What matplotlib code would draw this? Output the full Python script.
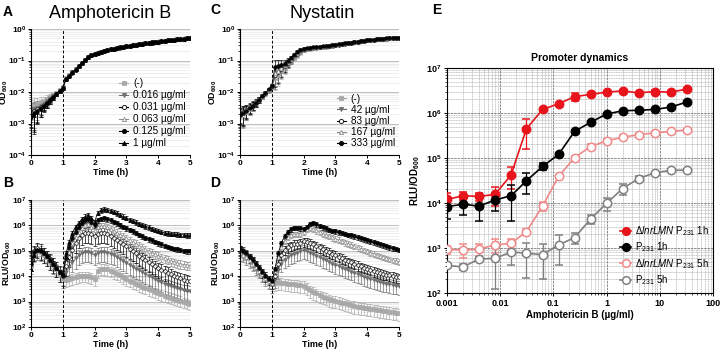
import numpy as np
import matplotlib
matplotlib.use("Agg")
import matplotlib.pyplot as plt
from matplotlib import ticker
from matplotlib.lines import Line2D

plt.rcParams['font.family'] = ['Liberation Sans', 'DejaVu Sans']
plt.rcParams['mathtext.fontset'] = 'custom'
plt.rcParams['mathtext.rm'] = 'Liberation Sans'
plt.rcParams['mathtext.it'] = 'Liberation Sans:italic'
plt.rcParams['mathtext.bf'] = 'Liberation Sans:bold'

# ----------------------------
# Time course data (log10 values, every 0.1 h from 0 to 5 h)
# ----------------------------
times = [round(0.1 * i, 1) for i in range(51)]

amb_labels = ['(-)', '0.016 µg/ml', '0.031 µg/ml', '0.063 µg/ml', '0.125 µg/ml', '1 µg/ml']
nys_labels = ['(-)', '42 µg/ml', '83 µg/ml', '167 µg/ml', '333 µg/ml']

od_amb_neg = [-2.45, -2.42, -2.38, -2.33, -2.28, -2.22, -2.16, -2.10, -2.03, -1.95,
              -1.86, -1.57, -1.47, -1.37, -1.28, -1.18, -1.08, -0.99, -0.90, -0.83,
              -0.78, -0.75, -0.72, -0.69, -0.67, -0.64, -0.62, -0.60, -0.58, -0.57,
              -0.55, -0.53, -0.52, -0.50, -0.49, -0.47, -0.45, -0.44, -0.43, -0.41,
              -0.40, -0.39, -0.37, -0.36, -0.35, -0.34, -0.33, -0.32, -0.31, -0.30,
              -0.29]
od_amb_016 = [-2.55, -2.55, -2.50, -2.44, -2.37, -2.30, -2.22, -2.13, -2.05, -1.96,
              -1.85, -1.58, -1.48, -1.38, -1.28, -1.18, -1.08, -0.98, -0.89, -0.83,
              -0.78, -0.75, -0.72, -0.69, -0.66, -0.64, -0.62, -0.60, -0.58, -0.57,
              -0.55, -0.53, -0.52, -0.50, -0.48, -0.47, -0.45, -0.44, -0.42, -0.41,
              -0.40, -0.38, -0.37, -0.36, -0.35, -0.34, -0.33, -0.32, -0.31, -0.30,
              -0.29]
od_amb_031 = [-2.62, -2.60, -2.55, -2.47, -2.40, -2.31, -2.23, -2.15, -2.06, -1.96,
              -1.86, -1.59, -1.48, -1.38, -1.29, -1.19, -1.09, -0.99, -0.89, -0.83,
              -0.79, -0.75, -0.72, -0.70, -0.67, -0.64, -0.62, -0.60, -0.59, -0.57,
              -0.55, -0.54, -0.52, -0.50, -0.48, -0.47, -0.46, -0.44, -0.42, -0.41,
              -0.40, -0.38, -0.37, -0.36, -0.35, -0.34, -0.33, -0.32, -0.31, -0.30,
              -0.29]
od_amb_063 = [-2.70, -2.65, -2.58, -2.50, -2.42, -2.33, -2.24, -2.15, -2.06, -1.96,
              -1.85, -1.58, -1.47, -1.37, -1.28, -1.17, -1.08, -0.98, -0.89, -0.82,
              -0.78, -0.74, -0.72, -0.69, -0.66, -0.64, -0.61, -0.60, -0.58, -0.56,
              -0.55, -0.53, -0.51, -0.50, -0.48, -0.46, -0.45, -0.43, -0.42, -0.41,
              -0.39, -0.38, -0.37, -0.35, -0.34, -0.33, -0.32, -0.31, -0.30, -0.29,
              -0.28]
od_amb_125 = [-2.75, -2.68, -2.60, -2.52, -2.43, -2.34, -2.25, -2.16, -2.07, -1.97,
              -1.87, -1.58, -1.48, -1.39, -1.29, -1.18, -1.08, -0.98, -0.89, -0.83,
              -0.78, -0.75, -0.72, -0.69, -0.66, -0.64, -0.62, -0.60, -0.58, -0.57,
              -0.55, -0.53, -0.52, -0.50, -0.48, -0.47, -0.45, -0.44, -0.42, -0.41,
              -0.40, -0.38, -0.37, -0.36, -0.35, -0.34, -0.33, -0.32, -0.31, -0.30,
              -0.29]
od_amb_1 = [-2.80, -2.72, -2.62, -2.53, -2.44, -2.35, -2.26, -2.17, -2.07, -1.97,
            -1.87, -1.59, -1.49, -1.38, -1.28, -1.18, -1.09, -0.99, -0.90, -0.83,
            -0.79, -0.75, -0.72, -0.69, -0.67, -0.64, -0.62, -0.60, -0.58, -0.57,
            -0.55, -0.53, -0.52, -0.50, -0.49, -0.47, -0.45, -0.44, -0.43, -0.41,
            -0.40, -0.39, -0.37, -0.36, -0.35, -0.34, -0.33, -0.32, -0.31, -0.30,
            -0.29]

od_nys_neg = [-2.70, -2.66, -2.58, -2.50, -2.42, -2.33, -2.24, -2.14, -2.04, -1.94,
              -1.84, -1.55, -1.45, -1.34, -1.23, -1.12, -1.02, -0.92, -0.82, -0.74,
              -0.68, -0.64, -0.62, -0.60, -0.59, -0.58, -0.57, -0.56, -0.54, -0.53,
              -0.51, -0.49, -0.48, -0.46, -0.45, -0.43, -0.42, -0.40, -0.38, -0.37,
              -0.36, -0.35, -0.34, -0.33, -0.32, -0.32, -0.31, -0.30, -0.30, -0.29,
              -0.29]
od_nys_42 = [-2.75, -2.70, -2.62, -2.53, -2.44, -2.35, -2.25, -2.15, -2.05, -1.95,
             -1.84, -1.50, -1.40, -1.30, -1.20, -1.10, -1.00, -0.90, -0.80, -0.72,
             -0.66, -0.63, -0.61, -0.60, -0.59, -0.58, -0.57, -0.56, -0.54, -0.52,
             -0.51, -0.50, -0.48, -0.47, -0.45, -0.44, -0.42, -0.40, -0.39, -0.37,
             -0.36, -0.35, -0.34, -0.33, -0.33, -0.32, -0.31, -0.30, -0.30, -0.29,
             -0.28]
od_nys_83 = [-2.68, -2.64, -2.57, -2.49, -2.41, -2.32, -2.23, -2.13, -2.03, -1.93,
             -1.82, -1.45, -1.36, -1.27, -1.17, -1.07, -0.97, -0.87, -0.78, -0.70,
             -0.65, -0.62, -0.61, -0.60, -0.58, -0.57, -0.56, -0.55, -0.54, -0.53,
             -0.51, -0.50, -0.48, -0.47, -0.45, -0.44, -0.42, -0.41, -0.39, -0.38,
             -0.36, -0.35, -0.34, -0.33, -0.32, -0.31, -0.31, -0.30, -0.29, -0.29,
             -0.28]
od_nys_167 = [-2.80, -2.73, -2.64, -2.55, -2.45, -2.35, -2.25, -2.15, -2.04, -1.94,
              -1.82, -1.40, -1.32, -1.24, -1.15, -1.05, -0.95, -0.85, -0.76, -0.69,
              -0.64, -0.62, -0.60, -0.59, -0.58, -0.57, -0.56, -0.55, -0.54, -0.53,
              -0.51, -0.49, -0.48, -0.46, -0.45, -0.43, -0.42, -0.40, -0.39, -0.37,
              -0.36, -0.35, -0.34, -0.33, -0.32, -0.31, -0.31, -0.30, -0.29, -0.29,
              -0.28]
od_nys_333 = [-2.72, -2.68, -2.60, -2.52, -2.43, -2.34, -2.24, -2.14, -2.03, -1.92,
              -1.80, -1.20, -1.18, -1.15, -1.10, -1.02, -0.93, -0.83, -0.74, -0.67,
              -0.62, -0.60, -0.59, -0.58, -0.57, -0.56, -0.55, -0.54, -0.53, -0.52,
              -0.51, -0.49, -0.47, -0.46, -0.44, -0.43, -0.41, -0.40, -0.38, -0.37,
              -0.36, -0.35, -0.34, -0.33, -0.32, -0.31, -0.30, -0.30, -0.29, -0.28,
              -0.28]

# relative SD of OD readings at each time point
od_err_amb = [0.55, 0.75, 0.60, 0.45, 0.35, 0.30, 0.25, 0.20, 0.15, 0.15,
              0.12, 0.08, 0.06, 0.05, 0.05, 0.05, 0.05, 0.05, 0.05, 0.05,
              0.04, 0.04, 0.04, 0.04, 0.04, 0.04, 0.04, 0.04, 0.04, 0.04,
              0.03, 0.03, 0.03, 0.03, 0.03, 0.03, 0.03, 0.03, 0.03, 0.03,
              0.03, 0.03, 0.03, 0.03, 0.03, 0.03, 0.03, 0.03, 0.03, 0.03,
              0.03]
od_err_nys = [0.50, 0.60, 0.45, 0.35, 0.30, 0.25, 0.20, 0.15, 0.15, 0.15,
              0.15, 0.60, 0.55, 0.45, 0.35, 0.25, 0.20, 0.18, 0.18, 0.15,
              0.12, 0.10, 0.08, 0.06, 0.05, 0.05, 0.05, 0.04, 0.04, 0.04,
              0.04, 0.04, 0.04, 0.03, 0.03, 0.03, 0.03, 0.03, 0.03, 0.03,
              0.03, 0.03, 0.03, 0.03, 0.03, 0.03, 0.03, 0.03, 0.03, 0.03,
              0.03]

rlu_amb_neg = [4.70, 4.90, 5.00, 4.95, 4.85, 4.75, 4.60, 4.45, 4.30, 4.10,
               3.90, 3.85, 3.88, 3.92, 3.96, 4.00, 4.02, 4.02, 4.00, 3.95,
               3.88, 4.20, 4.30, 4.30, 4.27, 4.22, 4.16, 4.10, 4.03, 3.96,
               3.89, 3.83, 3.77, 3.71, 3.65, 3.59, 3.54, 3.49, 3.44, 3.39,
               3.34, 3.29, 3.24, 3.20, 3.16, 3.12, 3.08, 3.04, 3.00, 2.96,
               2.92]
rlu_amb_016 = [4.50, 4.95, 5.05, 5.00, 4.90, 4.80, 4.65, 4.50, 4.35, 4.15,
               3.95, 4.15, 4.35, 4.55, 4.70, 4.82, 4.90, 4.95, 4.96, 4.90,
               4.83, 4.92, 4.96, 4.96, 4.93, 4.88, 4.82, 4.75, 4.68, 4.60,
               4.53, 4.45, 4.38, 4.30, 4.23, 4.16, 4.09, 4.02, 3.95, 3.88,
               3.82, 3.76, 3.70, 3.65, 3.60, 3.56, 3.52, 3.49, 3.46, 3.43,
               3.41]
rlu_amb_031 = [4.60, 5.00, 5.10, 5.05, 4.92, 4.80, 4.66, 4.52, 4.36, 4.18,
               4.00, 4.40, 4.75, 5.05, 5.30, 5.50, 5.62, 5.70, 5.72, 5.68,
               5.58, 5.65, 5.70, 5.70, 5.66, 5.60, 5.52, 5.44, 5.35, 5.26,
               5.17, 5.08, 4.99, 4.90, 4.81, 4.72, 4.63, 4.55, 4.47, 4.40,
               4.33, 4.26, 4.20, 4.14, 4.08, 4.02, 3.97, 3.92, 3.87, 3.83,
               3.80]
rlu_amb_063 = [4.40, 4.90, 5.00, 4.98, 4.88, 4.76, 4.62, 4.48, 4.32, 4.15,
               4.05, 4.55, 4.95, 5.30, 5.55, 5.75, 5.90, 6.00, 6.05, 5.95,
               5.82, 5.92, 5.96, 5.96, 5.92, 5.86, 5.79, 5.72, 5.64, 5.57,
               5.50, 5.42, 5.35, 5.28, 5.20, 5.13, 5.06, 4.99, 4.93, 4.87,
               4.81, 4.75, 4.70, 4.65, 4.60, 4.56, 4.52, 4.49, 4.46, 4.44,
               4.42]
rlu_amb_125 = [4.50, 4.95, 5.05, 5.00, 4.90, 4.78, 4.63, 4.48, 4.33, 4.16,
               4.05, 4.70, 5.15, 5.50, 5.75, 5.95, 6.10, 6.20, 6.25, 6.15,
               6.00, 6.20, 6.27, 6.28, 6.25, 6.20, 6.14, 6.08, 6.01, 5.95,
               5.88, 5.82, 5.76, 5.70, 5.64, 5.58, 5.52, 5.46, 5.41, 5.35,
               5.30, 5.25, 5.20, 5.16, 5.12, 5.09, 5.06, 5.03, 5.01, 4.99,
               4.98]
rlu_amb_1 = [4.30, 4.85, 5.05, 5.02, 4.92, 4.80, 4.65, 4.50, 4.34, 4.17,
             4.05, 4.90, 5.35, 5.70, 5.95, 6.10, 6.25, 6.35, 6.40, 6.30,
             6.15, 6.50, 6.60, 6.63, 6.62, 6.58, 6.53, 6.47, 6.41, 6.35,
             6.29, 6.23, 6.18, 6.12, 6.07, 6.02, 5.97, 5.92, 5.87, 5.82,
             5.78, 5.74, 5.71, 5.69, 5.67, 5.66, 5.65, 5.64, 5.63, 5.62,
             5.62]

rlu_nys_neg = [5.00, 4.95, 4.82, 4.70, 4.55, 4.42, 4.28, 4.12, 3.98, 3.85,
               3.70, 3.72, 3.76, 3.74, 3.72, 3.70, 3.69, 3.68, 3.66, 3.64,
               3.62, 3.55, 3.45, 3.38, 3.32, 3.26, 3.20, 3.15, 3.10, 3.06,
               3.03, 3.00, 2.96, 2.93, 2.90, 2.86, 2.83, 2.80, 2.78, 2.76,
               2.74, 2.72, 2.70, 2.68, 2.66, 2.64, 2.62, 2.60, 2.58, 2.56,
               2.55]
rlu_nys_42 = [4.95, 4.90, 4.80, 4.68, 4.55, 4.40, 4.26, 4.10, 3.96, 3.83,
              3.70, 3.90, 4.25, 4.50, 4.65, 4.75, 4.82, 4.88, 4.93, 4.98,
              5.02, 4.98, 4.92, 4.86, 4.80, 4.74, 4.68, 4.62, 4.56, 4.50,
              4.45, 4.40, 4.34, 4.28, 4.23, 4.18, 4.13, 4.08, 4.03, 3.98,
              3.93, 3.89, 3.85, 3.81, 3.77, 3.74, 3.71, 3.68, 3.65, 3.63,
              3.61]
rlu_nys_83 = [5.05, 5.00, 4.88, 4.74, 4.60, 4.45, 4.30, 4.15, 4.00, 3.86,
              3.70, 4.00, 4.50, 4.85, 5.05, 5.15, 5.22, 5.26, 5.28, 5.32,
              5.37, 5.35, 5.30, 5.25, 5.19, 5.13, 5.07, 5.01, 4.95, 4.89,
              4.83, 4.77, 4.71, 4.65, 4.59, 4.54, 4.49, 4.44, 4.39, 4.34,
              4.29, 4.25, 4.21, 4.17, 4.13, 4.09, 4.06, 4.03, 4.00, 3.97,
              3.95]
rlu_nys_167 = [4.90, 4.85, 4.75, 4.62, 4.50, 4.36, 4.22, 4.08, 3.94, 3.82,
               3.75, 4.20, 4.75, 5.15, 5.40, 5.55, 5.63, 5.66, 5.66, 5.68,
               5.75, 5.85, 5.90, 5.86, 5.80, 5.74, 5.68, 5.63, 5.58, 5.53,
               5.48, 5.43, 5.38, 5.33, 5.28, 5.23, 5.18, 5.13, 5.08, 5.03,
               4.98, 4.93, 4.88, 4.83, 4.79, 4.75, 4.71, 4.67, 4.63, 4.60,
               4.57]
rlu_nys_333 = [5.10, 5.00, 4.90, 4.76, 4.62, 4.47, 4.32, 4.17, 4.02, 3.90,
               3.80, 4.30, 4.90, 5.30, 5.58, 5.75, 5.85, 5.90, 5.90, 5.88,
               5.87, 5.95, 6.07, 6.10, 6.05, 5.98, 5.93, 5.88, 5.83, 5.79,
               5.76, 5.73, 5.70, 5.67, 5.64, 5.61, 5.57, 5.53, 5.49, 5.45,
               5.41, 5.37, 5.33, 5.29, 5.25, 5.21, 5.17, 5.13, 5.10, 5.07,
               5.04]

# relative SD of each luminescence series
rlu_err_amb = [0.45, 0.6, 0.6, 0.35, 0.2, 0.2]
rlu_err_nys = [0.5, 0.55, 0.4, 0.25, 0.2]

# ----------------------------
# Promoter dynamics (panel E)
# ----------------------------
e_conc = [0.001, 0.002, 0.004, 0.008, 0.016, 0.031, 0.0625, 0.125,
          0.25, 0.5, 1, 2, 4, 8, 16, 32]
e_del_1h = [1.2e4, 1.45e4, 1.4e4, 1.55e4, 4.2e4, 4.4e5, 1.2e6, 1.6e6,
            2.3e6, 2.6e6, 2.9e6, 3.1e6, 2.8e6, 3.0e6, 2.9e6, 3.4e6]
e_del_1h_sd = [5e3, 3e3, 3e3, 7e3, 2.2e4, 2.8e5, 1e5, 1e5,
               4.5e5, 2e5, 2e5, 2e5, 2e5, 2e5, 2e5, 2e5]
e_p_1h = [8.3e3, 9.4e3, 8.5e3, 1.17e4, 1.45e4, 3.1e4, 6.5e4, 1.2e5,
          3.9e5, 6.2e5, 9.5e5, 1.12e6, 1.15e6, 1.2e6, 1.35e6, 1.75e6]
e_p_1h_sd = [4e3, 4e3, 4.5e3, 5e3, 1.05e4, 1.5e4, 1.2e4, 1e4,
             3e4, 4e4, 5e4, 5e4, 5e4, 5e4, 5e4, 8e4]
e_del_5h = [9.3e2, 9.1e2, 9.5e2, 1.17e3, 1.27e3, 2.3e3, 8.5e3, 3.9e4,
            1.02e5, 1.8e5, 2.4e5, 2.9e5, 3.3e5, 3.6e5, 3.9e5, 4.2e5]
e_del_5h_sd = [2e2, 3e2, 3e2, 4e2, 3e2, 4e2, 2e3, 3e3,
               8e3, 2e4, 2e4, 3e4, 3e4, 3e4, 3e4, 3e4]
e_p_5h = [4.1e2, 3.8e2, 5.7e2, 5.9e2, 8.1e2, 7.7e2, 7.1e2, 1.17e3,
          1.7e3, 4.4e3, 9.8e3, 2.1e4, 3.5e4, 4.7e4, 5.3e4, 5.4e4]
e_p_5h_sd = [5e1, 5e1, 5e1, 4.7e2, 4e2, 5.5e2, 5e2, 7.5e2,
             5e2, 1e3, 3e3, 6e3, 5e3, 3e3, 3e3, 3e3]
e_labels = [r'$\mathit{\Delta lnrLMN}$ P$_{\mathit{231}}$ 1h',
            r'P$_{\mathit{231}}$ 1h',
            r'$\mathit{\Delta lnrLMN}$ P$_{\mathit{231}}$ 5h',
            r'P$_{\mathit{231}}$ 5h']

# ----------------------------
# Styles
# ----------------------------
amb_styles = [dict(marker='s', color='#a8a8a8', mfc='#a8a8a8'),
              dict(marker='v', color='#6e6e6e', mfc='#6e6e6e'),
              dict(marker='o', color='black', mfc='white'),
              dict(marker='^', color='#8a8a8a', mfc='white'),
              dict(marker='o', color='black', mfc='black'),
              dict(marker='^', color='black', mfc='black')]
nys_styles = amb_styles[:5]

W, H = 723, 354
fig = plt.figure(figsize=(W / 100, H / 100), dpi=100)


def rect(x0, y0, x1, y1):
    return [x0 / W, 1 - y1 / H, (x1 - x0) / W, (y1 - y0) / H]


def pow_fmt(v, pos):
    return r'$\mathbf{10^{%d}}$' % int(round(np.log10(v)))


def time_panel(ax, series, errs, styles, ylim, ylabel, label_x):
    t = np.array(times)
    for vals, err, st in zip(series, errs, styles):
        y = 10 ** np.array(vals)
        e = np.array(err) * y
        lo = np.minimum(e, y * 0.9)
        ax.errorbar(t, y, yerr=[lo, e], color=st['color'], ecolor=st['color'],
                    elinewidth=0.5, capsize=1.2, capthick=0.5, lw=0.6,
                    marker=st['marker'], ms=2.6, mfc=st['mfc'], mec=st['color'],
                    mew=0.5, alpha=0.95)
    ax.set_yscale('log')
    ax.set_ylim(*ylim)
    ax.set_xlim(0, 5)
    ax.axvline(1, color='black', lw=0.7, ls=(0, (3, 2)))
    ax.yaxis.set_major_locator(ticker.LogLocator(base=10, numticks=10))
    ax.yaxis.set_major_formatter(ticker.FuncFormatter(pow_fmt))
    ax.yaxis.set_minor_locator(ticker.LogLocator(base=10, subs=np.arange(2, 10), numticks=10))
    ax.yaxis.set_minor_formatter(ticker.NullFormatter())
    ax.set_xticks(range(6))
    ax.grid(True, which='major', axis='y', color='#b4b4b4', lw=0.6)
    ax.grid(True, which='minor', axis='y', color='#e2e2e2', lw=0.4)
    ax.set_axisbelow(True)
    for s in ['top', 'right']:
        ax.spines[s].set_visible(False)
    for s in ['left', 'bottom']:
        ax.spines[s].set_linewidth(0.8)
    ax.tick_params(which='major', labelsize=6, length=2.5, width=0.7, pad=1)
    ax.tick_params(which='minor', length=1.2, width=0.5)
    for lab in ax.get_xticklabels():
        lab.set_fontweight('bold')
    ax.set_xlabel('Time (h)', fontsize=6.5, fontweight='bold', labelpad=1)
    ax.set_ylabel(ylabel, fontsize=6.3)
    ax.yaxis.set_label_coords(label_x, 0.5)


ax_a = fig.add_axes(rect(31, 29, 190, 155))
ax_b = fig.add_axes(rect(31, 200, 190, 327))
ax_c = fig.add_axes(rect(240, 29, 399, 155))
ax_d = fig.add_axes(rect(240, 200, 399, 327))

od_label = r'$\mathbf{OD_{600}}$'
rlu_label = r'$\mathbf{RLU/OD_{600}}$'

time_panel(ax_a, [od_amb_neg, od_amb_016, od_amb_031, od_amb_063, od_amb_125, od_amb_1],
           [od_err_amb] * 6, amb_styles, (1e-4, 1), od_label, -0.132)
time_panel(ax_c, [od_nys_neg, od_nys_42, od_nys_83, od_nys_167, od_nys_333],
           [od_err_nys] * 5, nys_styles, (1e-4, 1), od_label, -0.132)
time_panel(ax_b, [rlu_amb_neg, rlu_amb_016, rlu_amb_031, rlu_amb_063, rlu_amb_125, rlu_amb_1],
           [[r] * len(times) for r in rlu_err_amb], amb_styles, (1e2, 1e7), rlu_label, -0.115)
time_panel(ax_d, [rlu_nys_neg, rlu_nys_42, rlu_nys_83, rlu_nys_167, rlu_nys_333],
           [[r] * len(times) for r in rlu_err_nys], nys_styles, (1e2, 1e7), rlu_label, -0.115)


def legend_handles(styles, ms):
    return [Line2D([], [], color=st['color'], marker=st['marker'], mfc=st['mfc'],
                   mec=st['color'], ms=ms, lw=0.8, mew=0.6) for st in styles]


ax_a.legend(legend_handles(amb_styles, 3), amb_labels, loc='lower right',
            bbox_to_anchor=(1.0, 0.02), frameon=False, fontsize=7.2,
            handlelength=0.9, handletextpad=0.5, labelspacing=0.2, borderaxespad=0)
ax_c.legend(legend_handles(nys_styles, 3), nys_labels, loc='lower right',
            bbox_to_anchor=(1.0, 0.02), frameon=False, fontsize=7.2,
            handlelength=0.9, handletextpad=0.5, labelspacing=0.12, borderaxespad=0)

# ----------------------------
# Panel E
# ----------------------------
ax_e = fig.add_axes(rect(447, 68, 713, 293))
e_series = [(e_del_1h, e_del_1h_sd, '#e8141c', '#e8141c'),
            (e_p_1h, e_p_1h_sd, 'black', 'black'),
            (e_del_5h, e_del_5h_sd, '#f08a8a', 'white'),
            (e_p_5h, e_p_5h_sd, '#808080', 'white')]
for vals, sd, col, face in e_series:
    y = np.array(vals)
    e = np.array(sd)
    lo = np.minimum(e, y * 0.9)
    ax_e.errorbar(e_conc, y, yerr=[lo, e], color=col, ecolor=col, lw=1.2,
                  elinewidth=0.9, capsize=3, capthick=0.9, marker='o', ms=6,
                  mfc=face, mec=col, mew=1.1, zorder=3)
ax_e.set_xscale('log')
ax_e.set_yscale('log')
ax_e.set_xlim(0.001, 100)
ax_e.set_ylim(1e2, 1e7)
ax_e.xaxis.set_major_formatter(ticker.FuncFormatter(lambda v, p: f'{v:g}'))
ax_e.yaxis.set_major_formatter(ticker.FuncFormatter(pow_fmt))
ax_e.xaxis.set_minor_locator(ticker.LogLocator(base=10, subs=np.arange(2, 10), numticks=10))
ax_e.yaxis.set_minor_locator(ticker.LogLocator(base=10, subs=np.arange(2, 10), numticks=10))
ax_e.xaxis.set_minor_formatter(ticker.NullFormatter())
ax_e.yaxis.set_minor_formatter(ticker.NullFormatter())
ax_e.grid(True, which='major', color='#7a7a7a', lw=0.6, ls=(0, (3, 1)))
ax_e.grid(True, which='minor', color='#a0a0a0', lw=0.4, ls=(0, (2, 1)))
ax_e.set_axisbelow(True)
for s in ax_e.spines.values():
    s.set_linewidth(0.8)
ax_e.tick_params(which='major', labelsize=6.5, length=2.5, width=0.7, pad=1.5)
ax_e.tick_params(which='minor', length=1.3, width=0.5)
for lab in ax_e.get_xticklabels():
    lab.set_fontweight('bold')
ax_e.set_title('Promoter dynamics', fontsize=7.5, fontweight='bold', pad=5)
ax_e.set_xlabel('Amphotericin B (µg/ml)', fontsize=7, fontweight='bold', labelpad=2)
ax_e.set_ylabel(rlu_label, fontsize=7)
ax_e.yaxis.set_label_coords(-0.095, 0.5)

e_handles = [Line2D([], [], color=col, marker='o', mfc=face, mec=col, ms=5.5, lw=1.2, mew=1.1)
             for _, _, col, face in e_series]
ax_e.legend(e_handles, e_labels, loc='lower right', bbox_to_anchor=(1.0, 0.01),
            frameon=False, fontsize=7, handlelength=1.2, handletextpad=0.4,
            labelspacing=0.25, borderaxespad=0)

# ----------------------------
# Titles and panel letters
# ----------------------------
fig.text(110 / W, 1 - 13 / H, 'Amphotericin B', ha='center', va='center', fontsize=13)
fig.text(322 / W, 1 - 13 / H, 'Nystatin', ha='center', va='center', fontsize=13)
for letter, (px, py) in {'A': (8, 12), 'B': (8, 183), 'C': (215, 10),
                         'D': (215, 183), 'E': (437, 10)}.items():
    fig.text(px / W, 1 - py / H, letter, ha='center', va='center',
             fontsize=10, fontweight='bold')

fig.savefig('out.png', dpi=100)
